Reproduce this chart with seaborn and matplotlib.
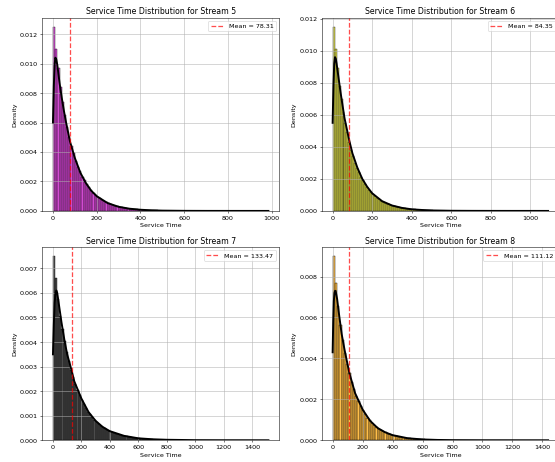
import numpy as np
import matplotlib
matplotlib.use("Agg")
import matplotlib.pyplot as plt
import seaborn as sns

# -----------------------------
# DATA
# -----------------------------
streams = [5, 6, 7, 8]
colors = ["m", "y", "k", "orange"]
means = [78.31, 84.35, 133.47, 111.12]
bin_widths = [10, 10, 15, 15]

# histogram bar heights (density), one per bin starting at 0
hist_5 = [0.0125, 0.0110, 0.0097, 0.0084, 0.0074, 0.0065, 0.0057, 0.0050, 0.0044, 0.0039,
          0.0034, 0.0030, 0.0027, 0.0023, 0.0021, 0.0018, 0.0016, 0.0014, 0.0012, 0.0011,
          0.00096, 0.00085, 0.00074, 0.00066, 0.00058, 0.00051, 0.00045, 0.00039, 0.00035, 0.00030,
          0.00027, 0.00024, 0.00021, 0.00018, 0.00016, 0.00014, 0.00012, 0.00011, 0.00010, 0.00008,
          0.00007, 0.00006, 0.00006, 0.00005, 0.00004, 0.00004, 0.00003, 0.00003, 0.00002, 0.00002,
          0.00002, 0.00001, 0.00001, 0.00001, 0.00001]
hist_6 = [0.0115, 0.0101, 0.0089, 0.0078, 0.0070, 0.0062, 0.0055, 0.0049, 0.0043, 0.0038,
          0.0034, 0.0030, 0.0027, 0.0024, 0.0021, 0.0019, 0.0017, 0.0015, 0.0013, 0.0012,
          0.00104, 0.00093, 0.00082, 0.00073, 0.00065, 0.00058, 0.00051, 0.00046, 0.00041, 0.00036,
          0.00032, 0.00028, 0.00025, 0.00022, 0.00020, 0.00018, 0.00016, 0.00014, 0.00012, 0.00011,
          0.00010, 0.00009, 0.00008, 0.00007, 0.00006, 0.00005, 0.00005, 0.00004, 0.00004, 0.00003,
          0.00003, 0.00002, 0.00002, 0.00002, 0.00002, 0.00001, 0.00001, 0.00001, 0.00001, 0.00001]
hist_7 = [0.0075, 0.0066, 0.00575, 0.00505, 0.00452, 0.00404, 0.00361, 0.00322, 0.00288, 0.00258,
          0.00230, 0.00206, 0.00184, 0.00164, 0.00147, 0.00131, 0.00117, 0.00105, 0.00094, 0.00084,
          0.00075, 0.00067, 0.00060, 0.00053, 0.00048, 0.00043, 0.00038, 0.00034, 0.00030, 0.00027,
          0.00024, 0.00022, 0.00019, 0.00017, 0.00016, 0.00014, 0.00012, 0.00011, 0.00010, 0.00009,
          0.00008, 0.00007, 0.00006, 0.00006, 0.00005, 0.00004, 0.00004, 0.00003, 0.00003, 0.00003,
          0.00002, 0.00002, 0.00002, 0.00002, 0.00001, 0.00001, 0.00001, 0.00001]
hist_8 = [0.0090, 0.0077, 0.00655, 0.00561, 0.00490, 0.00428, 0.00374, 0.00327, 0.00286, 0.00250,
          0.00218, 0.00191, 0.00167, 0.00146, 0.00127, 0.00111, 0.00097, 0.00085, 0.00074, 0.00065,
          0.00057, 0.00049, 0.00043, 0.00038, 0.00033, 0.00029, 0.00025, 0.00022, 0.00019, 0.00017,
          0.00015, 0.00013, 0.00011, 0.00010, 0.00009, 0.00008, 0.00007, 0.00006, 0.00005, 0.00004,
          0.00004, 0.00003, 0.00003, 0.00002, 0.00002, 0.00002, 0.00001, 0.00001, 0.00001]

# KDE curve samples
kde_x_5 = [0, 4, 8, 11, 15, 20, 30, 40, 50, 60, 78, 100, 125, 150, 175, 200, 250, 300, 350,
           400, 450, 500, 600, 700, 800, 900, 985]
kde_y_5 = [0.0060, 0.0085, 0.0100, 0.0104, 0.0103, 0.0099, 0.0087, 0.0077, 0.0068, 0.0060,
           0.0047, 0.0036, 0.0026, 0.0019, 0.00137, 0.00100, 0.00053, 0.00028, 0.00015,
           0.00008, 0.00004, 0.00002, 0.000006, 0.000002, 0.000001, 0.0000005, 0.0]
kde_x_6 = [0, 4, 8, 12, 16, 20, 30, 40, 50, 60, 84, 100, 125, 150, 175, 200, 250, 300, 350,
           400, 450, 500, 600, 700, 800, 900, 1000, 1090]
kde_y_6 = [0.0055, 0.0078, 0.0092, 0.0096, 0.0095, 0.0092, 0.0083, 0.0074, 0.0066, 0.0058,
           0.0044, 0.0036, 0.0027, 0.0020, 0.0015, 0.0011, 0.00061, 0.00034, 0.00019,
           0.00010, 0.00006, 0.00003, 0.00001, 0.000004, 0.000002, 0.000001, 0.000001, 0.0]
kde_x_7 = [0, 6, 12, 18, 24, 30, 40, 60, 80, 100, 133, 150, 200, 250, 300, 350, 400, 500,
           600, 700, 800, 1000, 1200, 1400, 1515]
kde_y_7 = [0.0035, 0.0047, 0.0056, 0.0060, 0.0061, 0.0060, 0.0056, 0.0048, 0.0041, 0.0035,
           0.0028, 0.0024, 0.0017, 0.00115, 0.00079, 0.00054, 0.00037, 0.00018,
           0.00008, 0.00004, 0.00002, 0.000005, 0.000002, 0.000001, 0.0]
kde_x_8 = [0, 4, 8, 12, 16, 20, 30, 40, 60, 80, 111, 150, 200, 250, 300, 350, 400, 500,
           600, 700, 800, 1000, 1200, 1438]
kde_y_8 = [0.0043, 0.0058, 0.0068, 0.0072, 0.0073, 0.0073, 0.0069, 0.0063, 0.0052, 0.0044,
           0.0033, 0.0023, 0.0015, 0.00095, 0.00060, 0.00039, 0.00025, 0.00010,
           0.00004, 0.000016, 0.000007, 0.000002, 0.000001, 0.0]

hists = [hist_5, hist_6, hist_7, hist_8]
kde_xs = [kde_x_5, kde_x_6, kde_x_7, kde_x_8]
kde_ys = [kde_y_5, kde_y_6, kde_y_7, kde_y_8]

# -----------------------------
# PLOT
# -----------------------------
fig, axes = plt.subplots(2, 2, figsize=(12, 10), dpi=46.25)
# the reference is cropped on the right, so the right column runs past the edge
fig.subplots_adjust(left=0.076, right=1.007, top=0.961, bottom=0.047,
                    wspace=0.18, hspace=0.186)

for ax, s, c, m, w, h, kx, ky in zip(axes.flat, streams, colors, means, bin_widths,
                                       hists, kde_xs, kde_ys):
    centers = np.arange(len(h)) * w + w / 2
    sns.histplot(x=centers, weights=h, binwidth=w, binrange=(0, len(h) * w),
                 stat="count", color=c, alpha=0.7, ax=ax)
    sns.lineplot(x=kx, y=ky, color="black", linewidth=3, ax=ax)
    ax.axvline(m, color="red", linestyle="--", linewidth=2, alpha=0.7,
               label=f"Mean = {m:.2f}")
    ax.set_title(f"Service Time Distribution for Stream {s}")
    ax.set_xlabel("Service Time")
    ax.set_ylabel("Density")
    ax.legend(loc="upper right")
    ax.grid(True)

plt.savefig("out.png")
